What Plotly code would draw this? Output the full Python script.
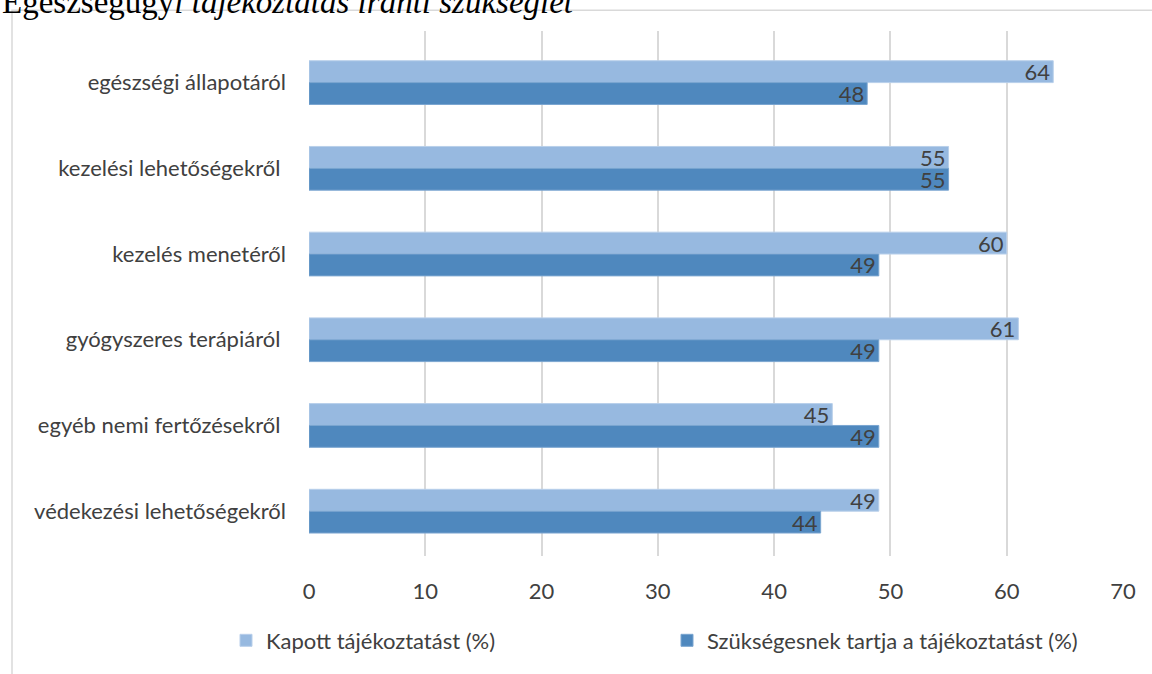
import plotly.graph_objects as go

categories = [
    "egészségi állapotáról",
    "kezelési lehetőségekről ",
    "kezelés menetéről",
    "gyógyszeres terápiáról ",
    "egyéb nemi fertőzésekről ",
    "védekezési lehetőségekről",
]
kapott = [64, 55, 60, 61, 45, 49]
szukseges = [48, 55, 49, 49, 49, 44]
series_names = ["Kapott tájékoztatást (%)", "Szükségesnek tartja a tájékoztatást (%)"]
x_ticks = [0, 10, 20, 30, 40, 50, 60, 70]

W, H = 1152, 674
L, R, T, B = 309, 29, 31, 114
pw = W - L - R
ph = H - T - B

def px_x(px):
    return (px - L) / pw

def px_y(py):
    return (H - B - py) / ph

txt_color = "#404040"
font_family = "Lato, Open Sans, sans-serif"
fs = 22

fig = go.Figure()
fig.add_trace(go.Bar(
    y=categories, x=kapott, orientation="h", name=series_names[0],
    marker=dict(color="#97b9e0", line=dict(color="#b8cfea", width=1)),
    text=kapott, textposition="inside", insidetextanchor="end", textangle=0,
    textfont=dict(size=fs, color=txt_color, family=font_family),
))
fig.add_trace(go.Bar(
    y=categories, x=szukseges, orientation="h", name=series_names[1],
    marker=dict(color="#4f88be", line=dict(color="#7aa5d0", width=1)),
    text=szukseges, textposition="inside", insidetextanchor="end", textangle=0,
    textfont=dict(size=fs, color=txt_color, family=font_family),
))

fig.update_layout(
    width=W, height=H,
    margin=dict(l=L, r=R, t=T, b=B),
    paper_bgcolor="white", plot_bgcolor="white",
    barmode="group", bargap=0.49, bargroupgap=0,
    font=dict(family=font_family, color=txt_color, size=fs),
    uniformtext=dict(mode="show", minsize=20),
    showlegend=True,
    legend=dict(orientation="h", x=px_x(226), xanchor="left",
                y=px_y(624), yanchor="top",
                font=dict(size=fs, color=txt_color, family=font_family),
                traceorder="normal", entrywidth=396, entrywidthmode="pixels"),
    xaxis=dict(range=[0, 70], tickvals=x_ticks, showgrid=True, gridcolor="#d9d9d9",
               gridwidth=2, zeroline=False, showline=False, ticks="",
               tickfont=dict(size=fs, color=txt_color), ticklabelstandoff=20,
               fixedrange=True),
    yaxis=dict(range=[5.523, -0.602], showgrid=False, showline=False, ticks="",
               tickfont=dict(size=fs, color=txt_color), ticklabelstandoff=22,
               fixedrange=True),
)

fig.add_shape(type="rect", xref="paper", yref="paper",
              x0=px_x(12), x1=px_x(1165), y0=px_y(690), y1=px_y(10),
              line=dict(color="#d9d9d9", width=1.5), fillcolor="rgba(0,0,0,0)", layer="below")

fig.add_annotation(
    xref="paper", yref="paper", x=px_x(0), y=px_y(22), xanchor="left", yanchor="bottom",
    text="Egészségügy<i>i tájékoztatás iránti szükséglet</i>", showarrow=False,
    font=dict(family="Liberation Serif, Times New Roman, serif", size=33, color="black"),
)

fig.write_html("out.html")
